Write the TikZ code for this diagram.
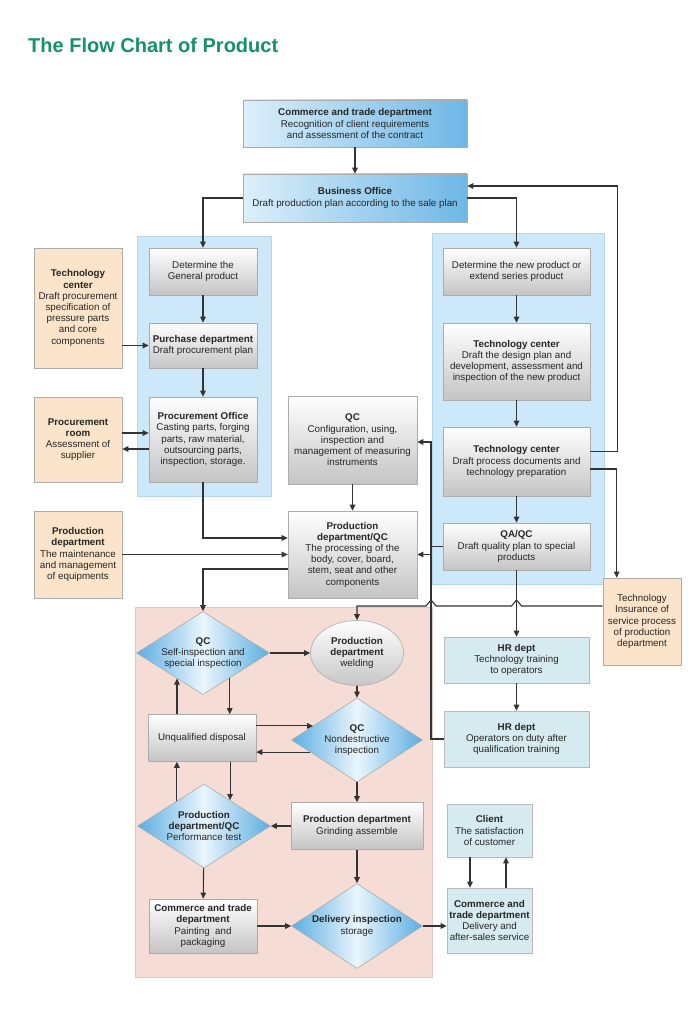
\documentclass[tikz,border=0pt]{standalone}
\usepackage{fontspec}
\setmainfont{Liberation Sans}
\usetikzlibrary{arrows.meta,shapes.geometric,calc}
\definecolor{titlegreen}{HTML}{17906E}
\definecolor{panelblue}{HTML}{CDE8F8}
\definecolor{panelblueb}{HTML}{B3D8EE}
\definecolor{panelpink}{HTML}{F5DDD5}
\definecolor{panelpinkb}{HTML}{DCCAC5}
\definecolor{orangefill}{HTML}{FBE4C9}
\definecolor{tealfill}{HTML}{D6EBF0}
\definecolor{bluel}{HTML}{DDEFFA}
\definecolor{blued}{HTML}{6DB7E6}
\definecolor{dlight}{HTML}{EAF5FC}
\definecolor{dblue}{HTML}{5BAEE2}
\definecolor{linec}{HTML}{333333}
\definecolor{txt}{HTML}{262626}
\begin{document}
\begin{tikzpicture}[x=1pt,y=-1pt,
  every node/.style={font=\fontsize{9.8}{11.2}\selectfont, text=txt, align=center, inner sep=1.5pt},
  base/.style={draw=gray!65, line width=0.6pt},
  gbox/.style={base, rectangle, top color=white, bottom color=black!23},
  bbox/.style={base, rectangle, left color=bluel, right color=blued},
  obox/.style={base, rectangle, fill=orangefill},
  tbox/.style={base, rectangle, fill=tealfill, draw=gray!55},
  dia/.style={base, diamond, inner sep=0pt, left color=dblue, right color=dblue, middle color=dlight},
  ell/.style={base, ellipse, inner sep=0pt, top color=white, bottom color=black!22},
  arr/.style={draw=linec, line width=1.1pt, -{Triangle[length=6pt,width=5.5pt]}},
  ln/.style={draw=linec, line width=1.1pt},
  sz/.style 2 args={minimum width=#1pt, minimum height=#2pt},
]
\useasboundingbox (0,0) rectangle (700,1016);
\fill[white] (0,0) rectangle (700,1016);

% title
\node[anchor=base west, inner sep=0pt, font=\fontsize{20}{23}\selectfont\bfseries, text=titlegreen] (title) at (28,53) {The Flow Chart of Product};

% panels
\draw[fill=panelblue, draw=panelblueb, line width=0.6pt] (137,236) rectangle (271,496);
\draw[fill=panelblue, draw=panelblueb, line width=0.6pt] (432,233) rectangle (604,584);
\draw[fill=panelpink, draw=panelpinkb, line width=0.6pt] (135,607) rectangle (432,977);

% top
\node[bbox, sz={224}{47}] (ct) at (355,123.5) {\textbf{Commerce and trade department}\\Recognition of client requirements\\and assessment of the contract};
\node[bbox, sz={224}{48}] (bo) at (355,198) {\textbf{Business Office}\\Draft production plan according to the sale plan};

% left column
\node[gbox, sz={108}{47}] (dg) at (203,271.5) {Determine the\\General product};
\node[gbox, sz={108}{45}] (pd) at (203,345.5) {\textbf{Purchase department}\\Draft procurement plan};
\node[gbox, sz={108}{85}] (po) at (203,439.5) {\textbf{Procurement Office}\\Casting parts, forging\\parts, raw material,\\outsourcing parts,\\inspection, storage.};

\node[obox, sz={88}{120}] (tc0) at (78,308) {\textbf{Technology}\\\textbf{center}\\Draft procurement\\specification of\\pressure parts\\and core\\components};
\node[obox, sz={88}{85}] (pr) at (78,439.5) {\textbf{Procurement}\\\textbf{room}\\Assessment of\\supplier};
\node[obox, sz={88}{87}] (pdo) at (78,554.5) {\textbf{Production}\\\textbf{department}\\The maintenance\\and management\\of equipments};

% middle
\node[gbox, sz={129}{88}] (qcc) at (352.5,440) {\textbf{QC}\\Configuration, using,\\inspection and\\management of measuring\\instruments};
\node[gbox, sz={129}{87}] (pqc) at (352.5,554.5) {\textbf{Production}\\\textbf{department/QC}\\The processing of the\\body, cover, board,\\stem, seat and other\\components};

% right column
\node[gbox, sz={147}{47}] (dn) at (516.5,271.5) {Determine the new product or\\extend series product};
\node[gbox, sz={147}{77}] (tc1) at (516.5,361.5) {\textbf{Technology center}\\Draft the design plan and\\development, assessment and\\inspection of the new product};
\node[gbox, sz={147}{69}] (tc2) at (516.5,461.5) {\textbf{Technology center}\\Draft process documents and\\technology preparation};
\node[gbox, sz={147}{47}] (qa) at (516.5,546.5) {\textbf{QA/QC}\\Draft quality plan to special\\products};
\node[obox, sz={78}{87}] (ti) at (642,621.5) {Technology\\Insurance of\\service process\\of production\\department};
\node[tbox, sz={145}{46}] (hr1) at (516.5,660) {\textbf{HR dept}\\Technology training\\to operators};
\node[tbox, sz={145}{56}] (hr2) at (516.5,739) {\textbf{HR dept}\\Operators on duty after\\qualification training};

% bottom (pink area)
\node[dia, sz={133}{83}, label={center:{\textbf{QC}\\Self-inspection and\\special inspection}}] (qc1) at (203,653) {};
\node[ell, sz={93}{65}] (wd) at (357,653) {\textbf{Production}\\\textbf{department}\\welding};
\node[gbox, sz={108}{47}] (ud) at (202,738) {Unqualified disposal};
\node[dia, sz={131}{84}, label={center:{\textbf{QC}\\Nondestructive\\inspection}}] (qc2) at (357,740) {};
\node[dia, sz={133}{84}, label={center:{\textbf{Production}\\\textbf{department/QC}\\Performance test}}] (pt) at (204,826) {};
\node[gbox, sz={132}{47}] (ga) at (357,826) {\textbf{Production department}\\Grinding assemble};
\node[gbox, sz={108}{54}] (pp) at (203,926) {\textbf{Commerce and trade}\\\textbf{department}\\Painting\ \ and\\packaging};
\node[dia, sz={131}{85}, label={center:{\textbf{Delivery inspection}\\storage}}] (di) at (357,926) {};
\node[tbox, sz={85}{53}] (cl) at (489.5,830.5) {\textbf{Client}\\The satisfaction\\of customer};
\node[tbox, sz={85}{65}] (cd) at (489.5,920.5) {\textbf{Commerce and}\\\textbf{trade department}\\Delivery and\\after-sales service};

% helper coordinates
\coordinate (ly) at (0,606);
\coordinate (bx) at (431,0);

% connectors
\draw[arr] (ct) -- (bo);
\draw[arr] (bo.west) -| (dg.north);
\draw[arr] (bo.east) -| (dn.north);
\draw[arr] ([yshift=10pt]tc2.east) -- ++(27,0) |- ([yshift=12pt]bo.east);
\draw[arr] ([yshift=-7.5pt]tc2.east) -| ([xshift=14pt]ti.north west);
\draw[arr] ([yshift=15.5pt]ti.west) -- ($(qa.south|-ly)+(5,0)$) -- ++(-5,-6) -- ++(-5,6)
  -- ($(bx|-ly)+(5,0)$) -- ++(-5,-6) -- ++(-5,6) -| (wd.north);

\draw[arr] (dg) -- (pd);
\draw[arr] (pd) -- (po);
\draw[arr] (tc0.east|-pd.west) -- (pd.west);
\draw[arr] ([yshift=6.5pt]pr.east) -- ([yshift=6.5pt]po.west);
\draw[arr] ([yshift=-9.5pt]po.west) -- ([yshift=-9.5pt]pr.east);
\draw[arr] (po.south) |- ([yshift=16.5pt]pqc.west);
\draw[arr] (pdo) -- (pqc);
\draw[arr] (qcc) -- (pqc);

\draw[arr] (dn) -- (tc1);
\draw[arr] (tc1) -- (tc2);
\draw[arr] (tc2) -- (qa);
\draw[arr] (qa) -- (hr1);
\draw[arr] (hr1) -- (hr2);
\draw[arr] (qa.west) -- (bx|-qa.west) |- ([yshift=-2pt]qcc.east);
\draw[ln] (hr2.west) -| (bx|-qa.west);
\draw[arr] (bx|-pqc.east) -- (pqc.east);

\draw[arr] ([yshift=-14.5pt]pqc.west) -| (qc1.north);
\draw[arr] (qc1.east) -- (wd.west);
\draw[arr] (wd) -- (qc2);

\coordinate (q1a) at ($(qc1.south)!0.4!(qc1.east)$);
\coordinate (q1b) at ($(qc1.south)!0.39!(qc1.west)$);
\draw[arr] (q1a) -- (q1a|-ud.north);
\draw[arr] (q1b|-ud.north) -- (q1b);

\coordinate (q2a) at ($(qc2.west)!0.333!(qc2.north)$);
\coordinate (q2b) at ($(qc2.west)!0.286!(qc2.south)$);
\draw[arr] (ud.east|-q2a) -- (q2a);
\draw[arr] (q2b) -- (ud.east|-q2b);

\coordinate (pa) at ($(pt.north)!0.39!(pt.east)$);
\coordinate (pb) at ($(pt.north)!0.406!(pt.west)$);
\draw[arr] (pa|-ud.south) -- (pa);
\draw[arr] (pb) -- (pb|-ud.south);

\draw[arr] (qc2) -- (ga);
\draw[arr] (ga) -- (pt);
\draw[arr] (pt) -- (pp);
\draw[arr] (ga) -- (di);
\draw[arr] (pp) -- (di);
\draw[arr] (di.east) -- (di.east-|cd.west);
\draw[arr] ([xshift=-19.5pt]cl.south) -- ([xshift=-19.5pt]cd.north);
\draw[arr] ([xshift=16.5pt]cd.north) -- ([xshift=16.5pt]cl.south);
\end{tikzpicture}
\end{document}
